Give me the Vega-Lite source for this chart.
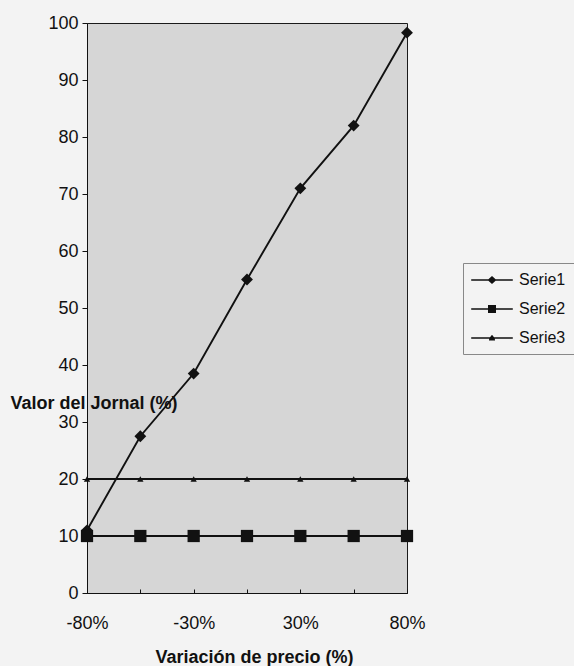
{
  "$schema": "https://vega.github.io/schema/vega-lite/v6.json",
  "autosize": "none",
  "width": 320,
  "height": 570,
  "padding": {"left": 87, "top": 23, "right": 167, "bottom": 73},
  "background": "#f3f3f3",
  "config": {
    "font": "Liberation Sans",
    "view": {"fill": "#d6d6d6", "stroke": "#1a1a1a", "strokeWidth": 1},
    "axis": {"labelColor": "#111", "titleColor": "#111", "domainColor": "#111", "tickColor": "#111", "labelFontSize": 18, "titleFontSize": 18, "titleFontWeight": "bold", "grid": false, "labelFont": "Liberation Sans", "titleFont": "Liberation Sans"}
  },
  "data": {
    "values": [
      {"precio": "-80%", "serie": "Serie1", "valor": 11},
      {"precio": "-55%", "serie": "Serie1", "valor": 27.5},
      {"precio": "-30%", "serie": "Serie1", "valor": 38.5},
      {"precio": "0%", "serie": "Serie1", "valor": 55},
      {"precio": "30%", "serie": "Serie1", "valor": 71},
      {"precio": "55%", "serie": "Serie1", "valor": 82},
      {"precio": "80%", "serie": "Serie1", "valor": 98.3},
      {"precio": "-80%", "serie": "Serie2", "valor": 10},
      {"precio": "-55%", "serie": "Serie2", "valor": 10},
      {"precio": "-30%", "serie": "Serie2", "valor": 10},
      {"precio": "0%", "serie": "Serie2", "valor": 10},
      {"precio": "30%", "serie": "Serie2", "valor": 10},
      {"precio": "55%", "serie": "Serie2", "valor": 10},
      {"precio": "80%", "serie": "Serie2", "valor": 10},
      {"precio": "-80%", "serie": "Serie3", "valor": 20},
      {"precio": "-55%", "serie": "Serie3", "valor": 20},
      {"precio": "-30%", "serie": "Serie3", "valor": 20},
      {"precio": "0%", "serie": "Serie3", "valor": 20},
      {"precio": "30%", "serie": "Serie3", "valor": 20},
      {"precio": "55%", "serie": "Serie3", "valor": 20},
      {"precio": "80%", "serie": "Serie3", "valor": 20}
    ]
  },
  "encoding": {
    "x": {
      "field": "precio", "type": "ordinal", "sort": null,
      "scale": {"type": "point", "padding": 0},
      "axis": {
        "title": "Variación de precio (%)",
        "labelAngle": 0,
        "labelExpr": "indexof(['-80%','-30%','30%','80%'], datum.value) >= 0 ? datum.value : ''",
        "tickSize": -4,
        "labelPadding": 25,
        "titleX": 167, "titleY": 64, "titleAlign": "center", "titleBaseline": "middle",
        "zindex": 1
      }
    },
    "y": {
      "field": "valor", "type": "quantitative",
      "scale": {"domain": [0, 100], "nice": false, "zero": true},
      "axis": {
        "title": "Valor del Jornal (%)",
        "values": [0, 10, 20, 30, 40, 50, 60, 70, 80, 90, 100],
        "tickSize": 5, "labelPadding": 4,
        "titleAngle": 0, "titleAlign": "left", "titleBaseline": "middle",
        "titleX": -77, "titleY": 380,
        "zindex": 1
      }
    }
  },
  "layer": [
    {
      "mark": {"type": "line", "color": "#111", "strokeWidth": 1.9},
      "encoding": {"detail": {"field": "serie"}}
    },
    {
      "transform": [{"filter": "datum.serie == 'Serie1'"}],
      "mark": {"type": "point", "shape": "diamond", "size": 140, "filled": true, "color": "#111", "opacity": 1}
    },
    {
      "transform": [{"filter": "datum.serie == 'Serie2'"}],
      "mark": {"type": "point", "shape": "square", "size": 150, "filled": true, "color": "#111", "opacity": 1}
    },
    {
      "transform": [{"filter": "datum.serie == 'Serie3'"}],
      "mark": {"type": "point", "shape": "triangle-up", "size": 40, "filled": true, "color": "#111", "opacity": 1}
    },
    {
      "transform": [{"filter": "false"}],
      "mark": {"type": "point", "filled": true, "color": "#111", "opacity": 1, "size": 256},
      "encoding": {
        "shape": {
          "field": "serie", "type": "nominal",
          "scale": {
            "domain": ["Serie1", "Serie2", "Serie3"],
            "range": [
              "M-2.6,-0.1H-0.45L0,-0.5L0.45,-0.1H2.6V0.1H0.45L0,0.5L-0.45,0.1H-2.6Z",
              "M-2.6,-0.1H-0.5V-0.5H0.5V-0.1H2.6V0.1H0.5V0.5H-0.5V0.1H-2.6Z",
              "M-2.6,-0.1H-0.25L0,-0.4L0.25,-0.1H2.6V0.1H0.35L0.38,0.3H-0.38L-0.35,0.1H-2.6Z"
            ]
          },
          "legend": {
            "title": null,
            "orient": "none",
            "legendX": 376,
            "legendY": 240,
            "padding": 8,
            "symbolOffset": 12,
            "labelOffset": 18,
            "rowPadding": 12,
            "symbolSize": 256,
            "symbolFillColor": "#111",
            "symbolOpacity": 1,
            "labelFontSize": 16,
            "labelColor": "#111",
            "labelFont": "Liberation Sans",
            "strokeColor": "#888",
            "fillColor": "#f3f3f3",
            "encode": {
              "symbols": {
                "update": {
                  "fill": {"value": "#111"},
                  "opacity": {"value": 1}
                }
              }
            }
          }
        }
      }
    }
  ]
}
